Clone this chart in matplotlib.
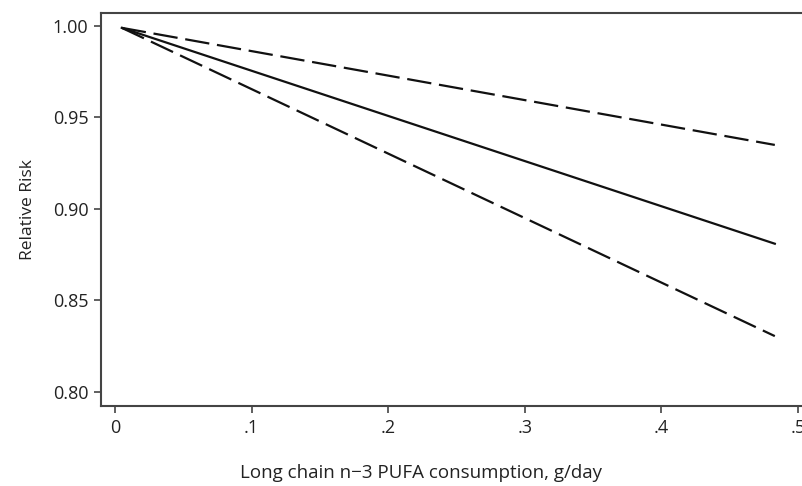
import matplotlib.pyplot as plt
from matplotlib.ticker import FixedLocator, FixedFormatter

plt.rcParams['font.family'] = ['Open Sans', 'DejaVu Sans']

# dose-response: long chain n-3 PUFA intake vs relative risk
x = [0.005, 0.483]
rr = [0.999, 0.881]
rr_upper = [0.999, 0.935]
rr_lower = [0.999, 0.8305]

xticks = [0, 0.1, 0.2, 0.3, 0.4, 0.5]
xticklabels = ['0', '.1', '.2', '.3', '.4', '.5']
yticks = [0.80, 0.85, 0.90, 0.95, 1.00]
yticklabels = ['0.80', '0.85', '0.90', '0.95', '1.00']

fig = plt.figure(figsize=(8.03, 4.86), dpi=100)
ax = fig.add_axes([0.1258, 0.1646, 0.883, 0.8086])

ax.plot(x, rr, color='#111111', lw=1.6)
ax.plot(x, rr_upper, color='#111111', lw=1.6, dashes=(11, 3.5))
ax.plot(x, rr_lower, color='#111111', lw=1.6, dashes=(11, 3.5))

ax.set_xlim(-0.0102, 0.5088)
ax.set_ylim(0.7923, 1.0071)

ax.xaxis.set_major_locator(FixedLocator(xticks))
ax.xaxis.set_major_formatter(FixedFormatter(xticklabels))
ax.yaxis.set_major_locator(FixedLocator(yticks))
ax.yaxis.set_major_formatter(FixedFormatter(yticklabels))

for s in ax.spines.values():
    s.set_color('#444444')
    s.set_linewidth(1.5)
ax.tick_params(direction='out', length=5, width=1.2, color='#444444',
               labelsize=13, labelcolor='#222222', pad=4)

ax.set_xlabel('Long chain n\u22123 PUFA consumption, g/day', fontsize=13.5,
              color='#222222')
ax.xaxis.set_label_coords(0.451, -0.148)
ax.set_ylabel('Relative Risk', fontsize=12.5, color='#222222', labelpad=12)

plt.savefig('out.png', dpi=100)
